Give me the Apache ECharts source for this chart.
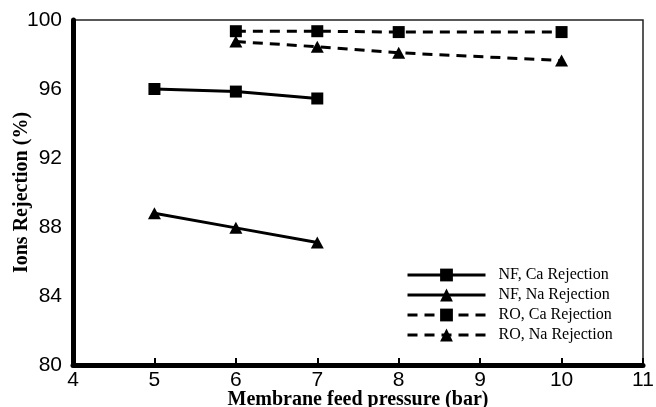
<!DOCTYPE html>
<html>
<head>
<meta charset="utf-8">
<script src="https://cdn.jsdelivr.net/npm/echarts@6/dist/echarts.min.js"></script>
<style>html,body{margin:0;padding:0;background:#fff;}#c{width:656px;height:407px;}</style>
</head>
<body>
<div id="c"></div>
<script>
const nfPressure = [5, 6, 7];
const roPressure = [6, 7, 8, 10];
const nfCa = [96.0, 95.85, 95.45];
const nfNa = [88.8, 87.95, 87.1];
const roCa = [99.35, 99.35, 99.3, 99.3];
const roNa = [98.75, 98.45, 98.1, 97.65];
const seriesNames = ['NF, Ca Rejection', 'NF, Na Rejection', 'RO, Ca Rejection', 'RO, Na Rejection'];
const xTitle = 'Membrane feed pressure (bar)';
const yTitle = 'Ions Rejection (%)';

const pairs = (xs, ys) => xs.map((x, i) => [x, ys[i]]);
const tri = 'path://M0,10 L5,0 L10,10 Z';

function mk(name, xs, ys, sym, dashed) {
  return {
    name: name,
    type: 'line',
    data: pairs(xs, ys),
    symbol: sym,
    symbolSize: sym === 'rect' ? 12 : [13, 12],
    showSymbol: true,
    itemStyle: { color: '#000' },
    lineStyle: { color: '#000', width: 3, type: dashed ? [10, 7] : 'solid' },
    z: 3
  };
}

const chart = echarts.init(document.getElementById('c'), null, { renderer: 'canvas' });
chart.setOption({
  animation: false,
  backgroundColor: '#fff',
  grid: { left: 73, right: 13, top: 20, bottom: 42, containLabel: false, outerBoundsMode: 'none', show: true, borderColor: '#222', borderWidth: 1.5, backgroundColor: 'transparent' },
  xAxis: {
    type: 'value', min: 4, max: 11, interval: 1,
    name: xTitle, nameLocation: 'middle', nameGap: 25, nameMoveOverlap: false,
    nameTextStyle: { fontFamily: 'Liberation Serif', fontWeight: 'bold', fontSize: 20, color: '#000' },
    axisLine: { show: true, onZero: false, lineStyle: { color: '#000', width: 5 } },
    axisTick: { show: true, inside: true, length: 7, lineStyle: { color: '#000', width: 2 } },
    axisLabel: { fontFamily: 'Liberation Sans', fontSize: 21, color: '#000', margin: 5 },
    splitLine: { show: false }
  },
  yAxis: {
    type: 'value', min: 80, max: 100, interval: 4,
    name: yTitle, nameLocation: 'middle', nameGap: 41, nameMoveOverlap: false,
    nameTextStyle: { fontFamily: 'Liberation Serif', fontWeight: 'bold', fontSize: 20, color: '#000' },
    axisLine: { show: true, onZero: false, lineStyle: { color: '#000', width: 5 } },
    axisTick: { show: false },
    axisLabel: { fontFamily: 'Liberation Sans', fontSize: 21, color: '#000', margin: 11 },
    splitLine: { show: false }
  },
  legend: {
    orient: 'vertical', left: 401, top: 262,
    itemWidth: 78, itemHeight: 16, itemGap: 4,
    data: seriesNames,
    lineStyle: { width: 3 },
    textStyle: { fontFamily: 'Liberation Serif', fontSize: 16, color: '#000', padding: [0, 0, 0, 8] }
  },
  series: [
    mk(seriesNames[0], nfPressure, nfCa, 'rect', false),
    mk(seriesNames[1], nfPressure, nfNa, tri, false),
    mk(seriesNames[2], roPressure, roCa, 'rect', true),
    mk(seriesNames[3], roPressure, roNa, tri, true)
  ]
});
</script>
</body>
</html>
